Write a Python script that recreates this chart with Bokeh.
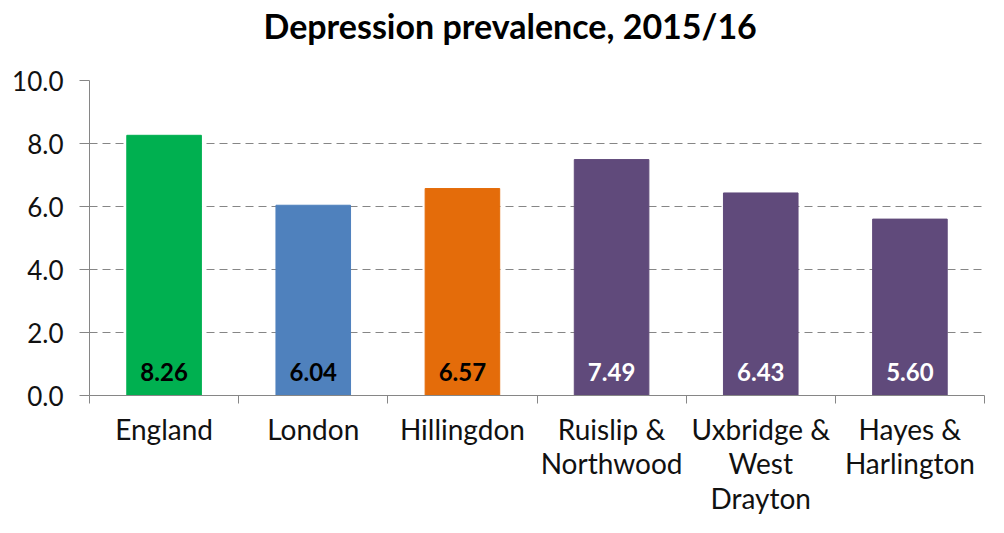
from bokeh.plotting import figure
from bokeh.models import FixedTicker, Range1d, NumeralTickFormatter, Title, ColumnDataSource
from bokeh.core.properties import value
from bokeh.embed import file_html
from bokeh.resources import INLINE

title_text = "Depression prevalence, 2015/16"
categories = ["England", "London", "Hillingdon", "Ruislip &\nNorthwood", "Uxbridge &\nWest\nDrayton", "Hayes &\nHarlington"]
values = [8.26, 6.04, 6.57, 7.49, 6.43, 5.60]
colors = ["#00B050", "#4F81BD", "#E46C0A", "#604A7B", "#604A7B", "#604A7B"]
label_colors = ["#000000", "#000000", "#000000", "#FFFFFF", "#FFFFFF", "#FFFFFF"]
y_ticks = [0, 2, 4, 6, 8, 10]

FONT = "Lato"
n = len(categories)
centers = [i + 0.5 for i in range(n)]

p = figure(width=988, height=517, output_backend="svg", toolbar_location=None,
           x_range=Range1d(0, n), y_range=Range1d(0, 10),
           min_border_left=89, min_border_right=4, min_border_top=79, min_border_bottom=119)
p.outline_line_color = None
p.background_fill_color = "white"
p.border_fill_color = "white"

# main title
p.title = Title(text=title_text, align="left", offset=174,
                text_font=FONT, text_font_size="34px", text_font_style="bold",
                text_color="#000000", standoff=4)
# empty spacer title (lifts the main title away from the frame)
p.add_layout(Title(text=" ", text_font_size="1px", standoff=30), "above")

src = ColumnDataSource(dict(x=centers, top=values, color=colors,
                            label=[f"{v:.2f}" for v in values], lc=label_colors,
                            base=[0] * n))
p.vbar(x="x", top="top", width=0.5, bottom=0, color="color", source=src)
p.text(x="x", y="base", text="label", text_color="lc", source=src,
       text_font=value(FONT), text_font_size="24px", text_font_style="bold",
       text_align="center", text_baseline="middle", y_offset=-24)

# y axis
yax = p.yaxis[0]
yax.ticker = FixedTicker(ticks=y_ticks)
yax.formatter = NumeralTickFormatter(format="0.0")
yax.axis_line_color = "#868686"
yax.major_tick_line_color = "#868686"
yax.major_tick_in = 0
yax.major_tick_out = 10
yax.minor_tick_line_color = None
yax.major_label_text_font = FONT
yax.major_label_text_font_size = "26px"
yax.major_label_text_color = "#111111"
yax.major_label_standoff = 16

# x axis
xax = p.xaxis[0]
xax.ticker = FixedTicker(ticks=centers, minor_ticks=list(range(n + 1)))
xax.major_label_overrides = {c: lab for c, lab in zip(centers, categories)}
xax.axis_line_color = "#868686"
xax.major_tick_line_color = None
xax.minor_tick_line_color = "#868686"
xax.minor_tick_in = 0
xax.minor_tick_out = 8
xax.major_label_text_font = FONT
xax.major_label_text_font_size = "28px"
xax.major_label_text_color = "#111111"
xax.major_label_text_line_height = 1.02
xax.major_label_standoff = 8

p.xgrid.grid_line_color = None
p.ygrid.ticker = FixedTicker(ticks=y_ticks)
p.ygrid.grid_line_color = "#868686"
p.ygrid.grid_line_dash = "8 5"

open("out.html", "w").write(file_html(p, INLINE))
